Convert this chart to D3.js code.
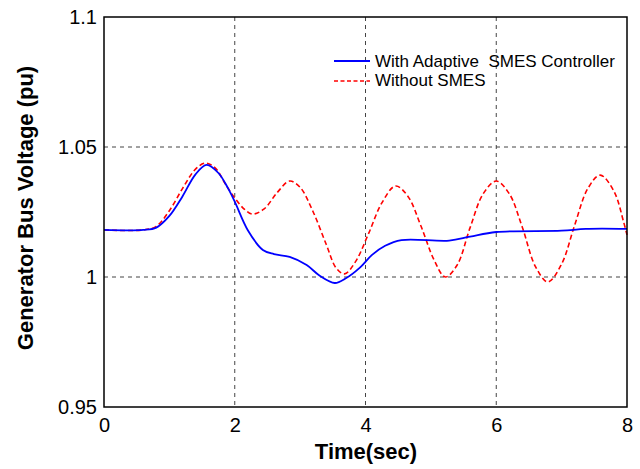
<!DOCTYPE html>
<html>
<head>
<meta charset="UTF-8">
<title>Generator Bus Voltage</title>
<script src="https://d3js.org/d3.v7.min.js"></script>
<style>
  body { margin: 0; background: #fff; }
  svg { font-family: "Liberation Sans", Arial, Helvetica, sans-serif; }
  .grid line { stroke: #444; stroke-dasharray: 4,4; stroke-width: 1; }
  .tick text { font-size: 20px; fill: #000; }
</style>
</head>
<body>
<svg width="640" height="469"></svg>
<script>
// time (sec) and voltage (pu)
var tWith = [0, 0.6, 0.8, 1.0, 1.2, 1.4, 1.57, 1.75, 1.9, 2.0, 2.2, 2.43, 2.6, 2.84, 3.1, 3.3, 3.53, 3.7, 3.91, 4.1, 4.3, 4.55, 5.28, 5.6, 6.0, 7.0, 7.37, 8.0];
var vWith = [1.0181, 1.0181, 1.019, 1.0235, 1.031, 1.0395, 1.0431, 1.040, 1.034, 1.029, 1.018, 1.0104, 1.0088, 1.0077, 1.0046, 1.0005, 0.9977, 0.9995, 1.0035, 1.0085, 1.0120, 1.0142, 1.0140, 1.0155, 1.0173, 1.0178, 1.0185, 1.0185];

var tWithout = [0, 0.6, 0.8, 1.0, 1.2, 1.4, 1.55, 1.7, 1.85, 2.0, 2.15, 2.27, 2.45, 2.65, 2.84, 3.0, 3.2, 3.4, 3.55, 3.68, 3.85, 4.05, 4.25, 4.46, 4.65, 4.85, 5.05, 5.22, 5.4, 5.6, 5.8, 6.0, 6.2, 6.4, 6.6, 6.79, 7.0, 7.2, 7.4, 7.59, 7.8, 7.95, 8.0];
var vWithout = [1.0181, 1.0181, 1.0195, 1.0255, 1.034, 1.0415, 1.0438, 1.042, 1.036, 1.0304, 1.026, 1.0242, 1.0262, 1.0325, 1.0369, 1.0345, 1.025, 1.0125, 1.0035, 1.0012, 1.0060, 1.0169, 1.0285, 1.035, 1.031, 1.0195, 1.0065, 1.0000, 1.0045, 1.0190, 1.0320, 1.0369, 1.0320, 1.0190, 1.0040, 0.9981, 1.0050, 1.0200, 1.0340, 1.0392, 1.0330, 1.0210, 1.0162];

var xTicks = [0, 2, 4, 6, 8];
var yTicks = [0.95, 1, 1.05, 1.1];
var yTickLabels = ["0.95", "1", "1.05", "1.1"];

var svg = d3.select("svg");
var plotL = 104, plotR = 627, plotT = 17, plotB = 407;

var x = d3.scaleLinear().domain([0, 8]).range([plotL, plotR]);
var y = d3.scaleLinear().domain([0.95, 1.1]).range([plotB, plotT]);

// grid
var grid = svg.append("g").attr("class", "grid");
grid.selectAll("line.v")
  .data(xTicks.slice(1, -1))
  .enter().append("line")
    .attr("x1", function(d) { return x(d); })
    .attr("x2", function(d) { return x(d); })
    .attr("y1", plotT).attr("y2", plotB);
grid.selectAll("line.h")
  .data(yTicks.slice(1, -1))
  .enter().append("line")
    .attr("x1", plotL).attr("x2", plotR)
    .attr("y1", function(d) { return y(d); })
    .attr("y2", function(d) { return y(d); });

// axes
svg.append("g")
    .attr("transform", "translate(0," + plotB + ")")
    .call(d3.axisBottom(x).tickValues(xTicks).tickSize(0).tickPadding(11).tickFormat(d3.format("d")))
    .call(function(g) { g.select(".domain").remove(); });

svg.append("g")
    .attr("transform", "translate(" + plotL + ",0)")
    .call(d3.axisLeft(y).tickValues(yTicks).tickSize(0).tickPadding(7)
      .tickFormat(function(d, i) { return yTickLabels[i]; }))
    .call(function(g) { g.select(".domain").remove(); });

// lines
var line = d3.line()
    .x(function(d) { return x(d[0]); })
    .y(function(d) { return y(d[1]); })
    .curve(d3.curveCatmullRom);

svg.append("path")
    .datum(d3.zip(tWithout, vWithout))
    .attr("fill", "none")
    .attr("stroke", "#ff0000")
    .attr("stroke-width", 1.6)
    .attr("stroke-dasharray", "5,3")
    .attr("d", line);

svg.append("path")
    .datum(d3.zip(tWith, vWith))
    .attr("fill", "none")
    .attr("stroke", "#0000ff")
    .attr("stroke-width", 1.8)
    .attr("d", line);

// frame
svg.append("rect")
    .attr("x", plotL).attr("y", plotT)
    .attr("width", plotR - plotL).attr("height", plotB - plotT)
    .attr("fill", "none").attr("stroke", "#000").attr("stroke-width", 1.5);

// legend
var legend = svg.append("g");
legend.append("line")
    .attr("x1", 334).attr("x2", 370).attr("y1", 61).attr("y2", 61)
    .attr("stroke", "#0000ff").attr("stroke-width", 1.8);
legend.append("line")
    .attr("x1", 334).attr("x2", 370).attr("y1", 81).attr("y2", 81)
    .attr("stroke", "#ff0000").attr("stroke-width", 1.6).attr("stroke-dasharray", "4,2.5");
legend.append("text")
    .attr("x", 375).attr("y", 67)
    .style("white-space", "pre")
    .attr("font-size", 17)
    .text("With Adaptive  SMES Controller");
legend.append("text")
    .attr("x", 375).attr("y", 86)
    .attr("font-size", 17)
    .text("Without SMES");

// axis titles
svg.append("text")
    .attr("x", 366).attr("y", 459)
    .attr("text-anchor", "middle")
    .attr("font-size", 22).attr("font-weight", "bold")
    .text("Time(sec)");

svg.append("text")
    .attr("transform", "translate(33,208) rotate(-90)")
    .attr("text-anchor", "middle")
    .attr("font-size", 22).attr("font-weight", "bold")
    .text("Generator Bus Voltage (pu)");
</script>
</body>
</html>
